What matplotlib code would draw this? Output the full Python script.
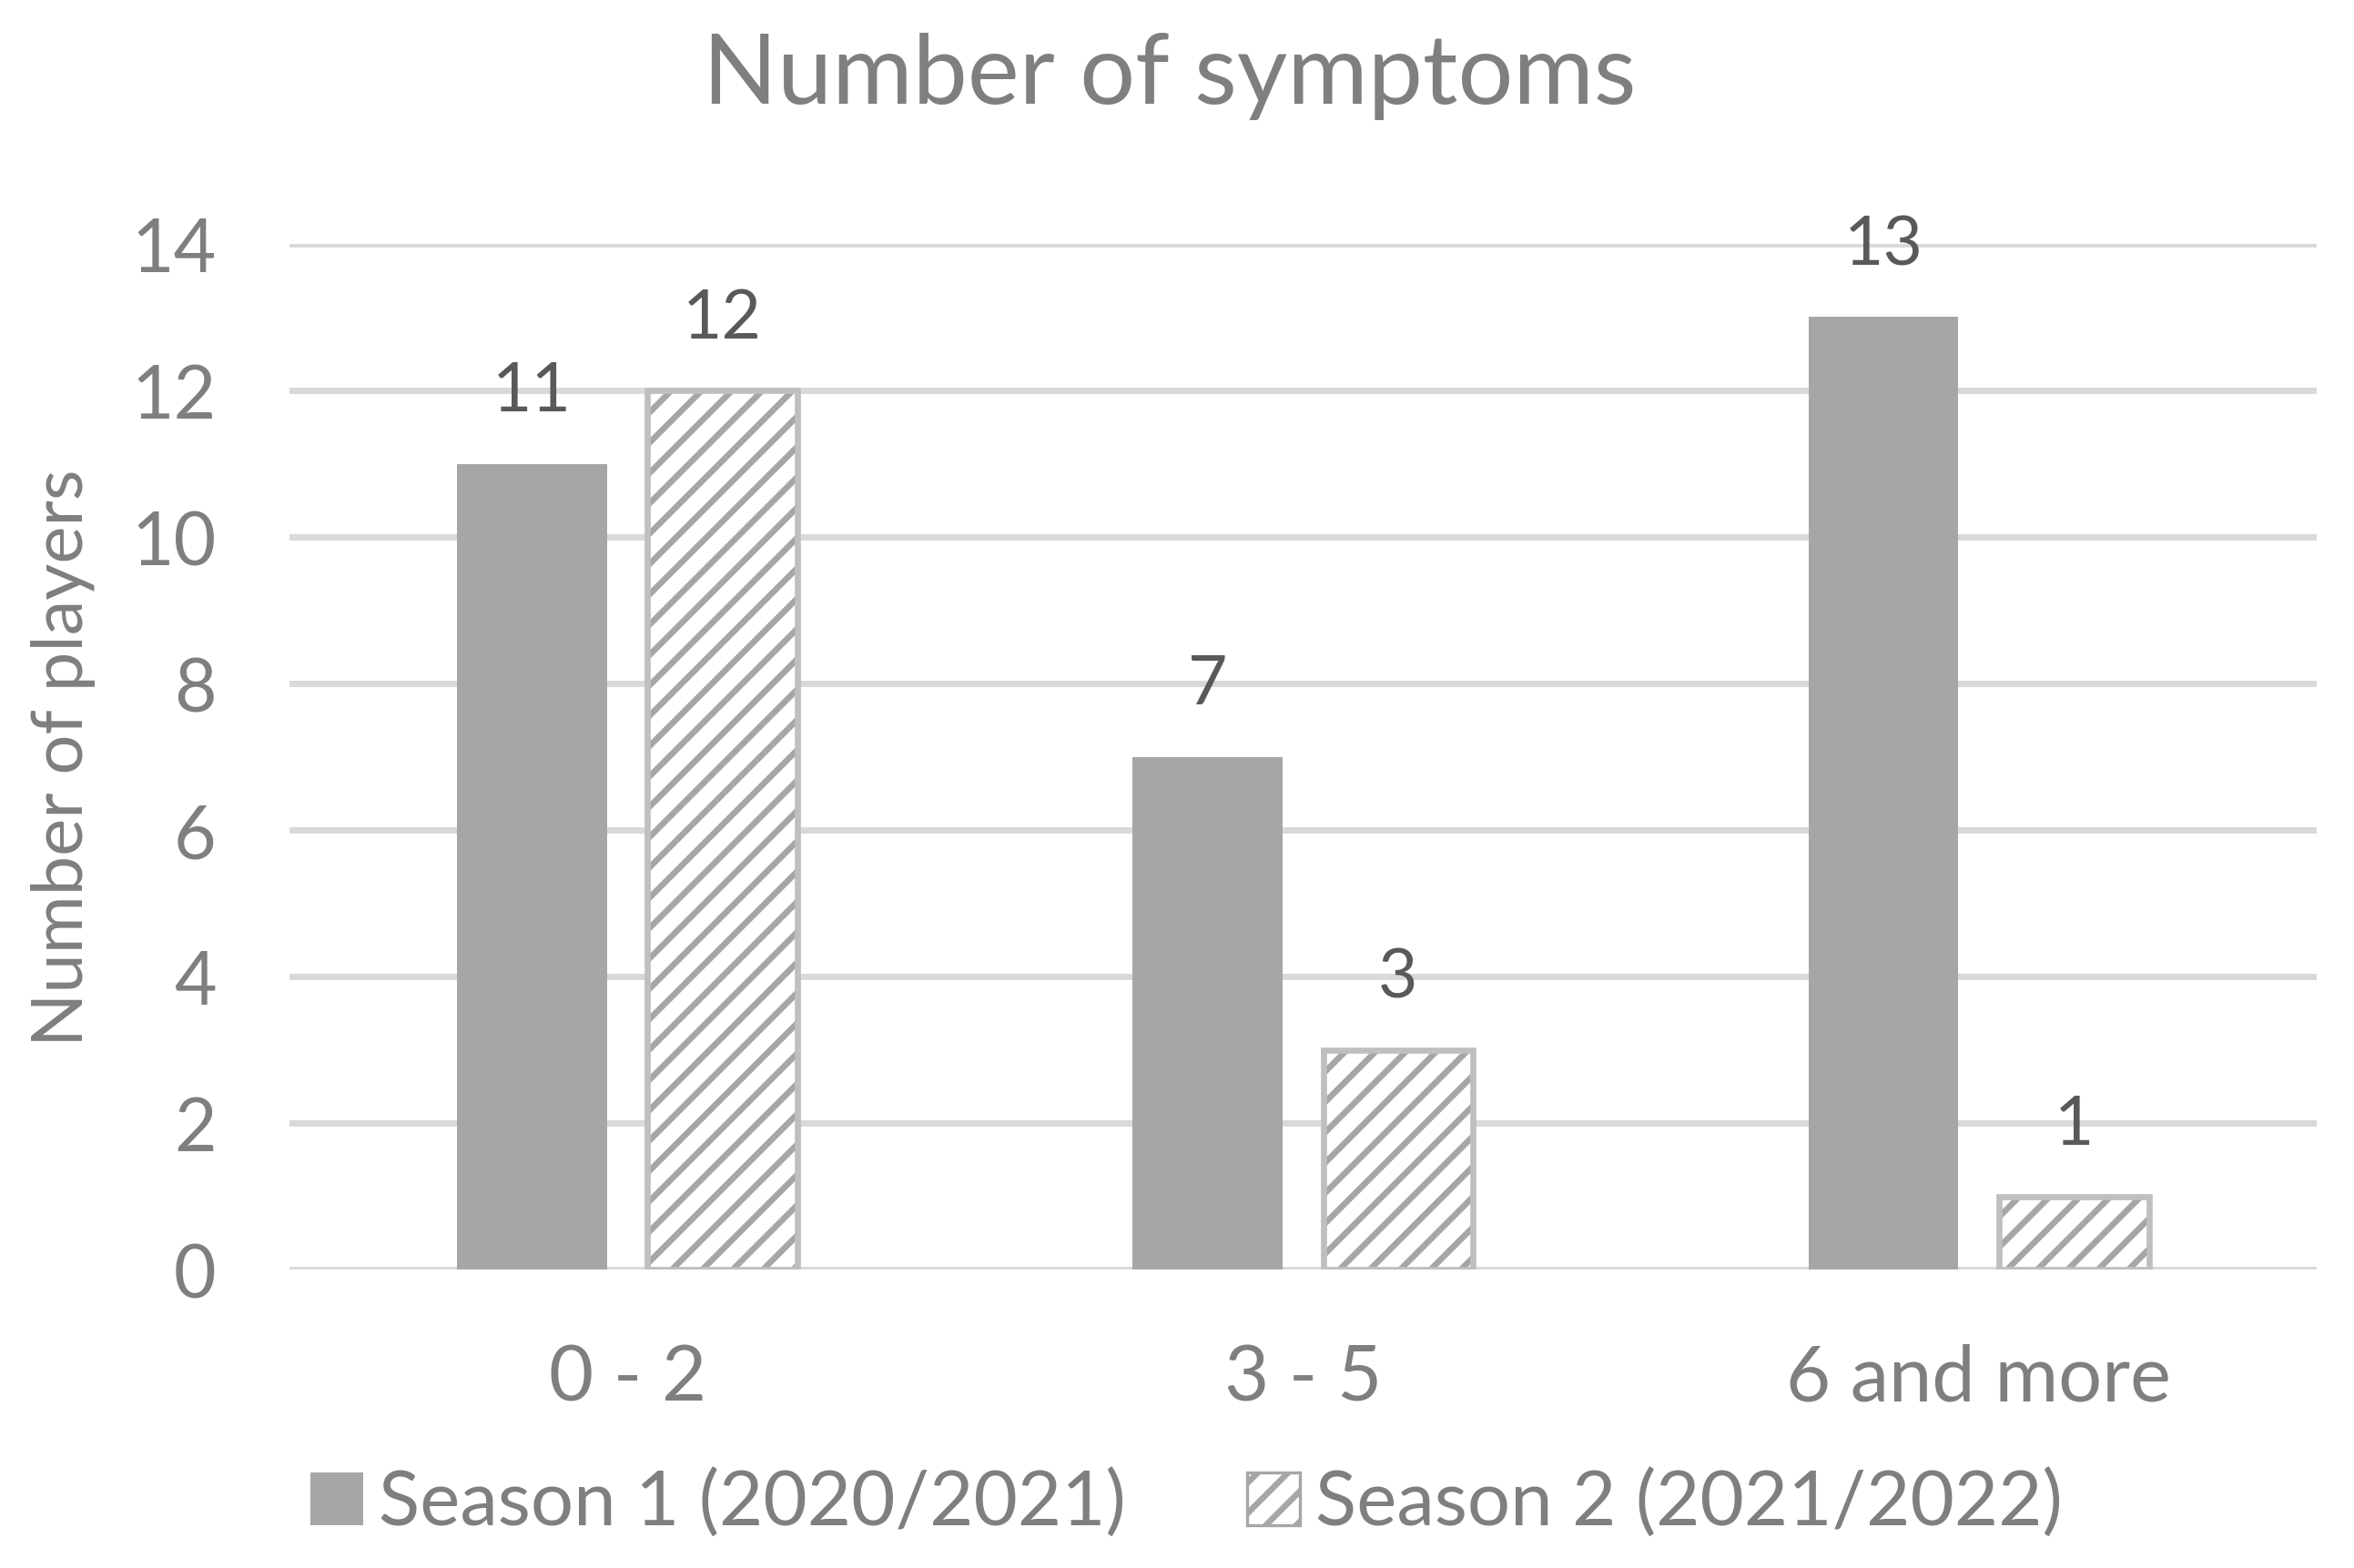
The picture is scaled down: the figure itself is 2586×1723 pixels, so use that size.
import matplotlib
matplotlib.use('Agg')
import matplotlib.pyplot as plt
from matplotlib.patches import Patch
import numpy as np

categories = ['0 - 2', '3 - 5', '6 and more']
season1 = [11, 7, 13]
season2 = [12, 3, 1]
series_names = ['Season 1 (2020/2021)', 'Season 2 (2021/2022)']
yticks = [0, 2, 4, 6, 8, 10, 12, 14]

plt.rcParams['font.family'] = ['Lato', 'DejaVu Sans']
plt.rcParams['hatch.linewidth'] = 2.4

txt = '#7f7f7f'
lbl = '#595959'
grid = '#d9d9d9'
c1 = '#a6a6a6'
edge2 = '#bfbfbf'

fig = plt.figure(figsize=(12.93, 8.62), dpi=200)
ax = fig.add_axes([0.123, 0.190, 0.861, 0.654])

x = np.arange(len(categories))
w = 0.222
off = 0.141

ax.bar(x - off, season1, w, color=c1, zorder=3)
# hatched fill, then light border on top
ax.bar(x + off, season2, w, facecolor='white', edgecolor=c1, hatch='//', linewidth=0, zorder=3)
ax.bar(x + off, season2, w, facecolor='none', edgecolor=edge2, linewidth=2.4, zorder=4)

for xs, vals in ((x - off, season1), (x + off, season2)):
    for xi, v in zip(xs, vals):
        ax.annotate(str(v), (xi, v), xytext=(0, 21), textcoords='offset points',
                    ha='center', va='baseline', fontsize=27, color=lbl)

ax.set_xlim(-0.5, 2.5)
ax.set_ylim(0, 14)
ax.set_yticks(yticks)
ax.set_xticks(x)
ax.set_xticklabels(categories)
ax.yaxis.grid(True, color=grid, linewidth=2.5, zorder=0)
ax.set_axisbelow(True)
for s in ax.spines.values():
    s.set_visible(False)
ax.axhline(0, color=grid, linewidth=2.5, zorder=2)
ax.tick_params(axis='both', length=0, labelsize=29, colors=txt)
ax.tick_params(axis='x', labelsize=30.5, pad=29)
ax.tick_params(axis='y', pad=29)

fig.text(0.027, 0.517, 'Number of players', rotation=90, ha='center', va='center',
         fontsize=28, color=txt)
fig.text(0.497, 0.951, 'Number of symptoms', ha='center', va='center', fontsize=38.7, color=txt)

handles = [Patch(facecolor=c1, edgecolor='none'),
           Patch(facecolor='white', edgecolor=c1, hatch='//', linewidth=1.2)]
fig.legend(handles, series_names, loc='center', bbox_to_anchor=(0.504, 0.041), ncol=2,
           frameon=False, fontsize=30, labelcolor=txt, handlelength=0.7, handleheight=0.7,
           handletextpad=0.2, columnspacing=1.6)

fig.savefig('out.png', dpi=200)
